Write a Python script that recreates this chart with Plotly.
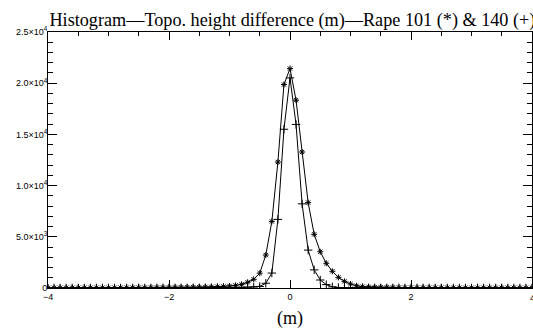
import plotly.graph_objects as go

x_bins = [-4.0, -3.9, -3.8, -3.7, -3.6, -3.5, -3.4, -3.3, -3.2, -3.1,
          -3.0, -2.9, -2.8, -2.7, -2.6, -2.5, -2.4, -2.3, -2.2, -2.1,
          -2.0, -1.9, -1.8, -1.7, -1.6, -1.5, -1.4, -1.3, -1.2, -1.1,
          -1.0, -0.9, -0.8, -0.7, -0.6, -0.5, -0.4, -0.3, -0.2, -0.1,
          0.0,
          0.1, 0.2, 0.3, 0.4, 0.5, 0.6, 0.7, 0.8, 0.9, 1.0,
          1.1, 1.2, 1.3, 1.4, 1.5, 1.6, 1.7, 1.8, 1.9, 2.0,
          2.1, 2.2, 2.3, 2.4, 2.5, 2.6, 2.7, 2.8, 2.9, 3.0,
          3.1, 3.2, 3.3, 3.4, 3.5, 3.6, 3.7, 3.8, 3.9, 4.0]

rape101 = [20, 20, 22, 22, 24, 25, 26, 28, 30, 30,
           32, 34, 35, 38, 40, 42, 45, 48, 52, 55,
           60, 64, 68, 74, 80, 88, 98, 110, 125, 150,
           200, 260, 360, 560, 850, 1450, 3220, 6500, 12300, 19870,
           21430,
           18340, 13280, 8340, 5240, 3540, 2410, 1630, 1040, 650, 390,
           220, 130, 105, 88, 76, 66, 60, 55, 50, 46,
           42, 40, 38, 36, 34, 32, 30, 29, 28, 27,
           26, 25, 24, 23, 22, 21, 20, 20, 19, 18]

rape140 = [5, 5, 5, 5, 5, 6, 6, 6, 7, 7,
           7, 8, 8, 9, 9, 10, 10, 11, 12, 13,
           14, 15, 16, 18, 20, 22, 25, 28, 32, 38,
           45, 55, 65, 80, 100, 150, 460, 1460, 6700, 15500,
           20520,
           15970, 8220, 3700, 1770, 780, 330, 110, 50, 35, 28,
           24, 21, 19, 17, 15, 14, 13, 12, 11, 10,
           10, 9, 9, 8, 8, 8, 7, 7, 7, 6,
           6, 6, 6, 5, 5, 5, 5, 5, 5, 5]

y_tickvals = [0, 5000, 10000, 15000, 20000, 25000]
y_ticktext = ["0", "5.0×10<sup>3</sup>", "1.0×10<sup>4</sup>",
              "1.5×10<sup>4</sup>", "2.0×10<sup>4</sup>", "2.5×10<sup>4</sup>"]
x_tickvals = [-4, -2, 0, 2]
x_ticktext = ["−4", "−2", "0", "2"]
x_last_tick = 4
x_last_label = "4"

title_text = "Histogram—Topo. height difference (m)—Rape 101 (*) & 140 (+)"
xaxis_title = "(m)"

fig = go.Figure()
fig.add_trace(go.Scatter(
    x=x_bins, y=rape101, mode="lines+markers",
    line=dict(color="black", width=1),
    marker=dict(symbol="asterisk-open", size=5, color="black",
                line=dict(color="black", width=1)),
    showlegend=False))
fig.add_trace(go.Scatter(
    x=x_bins, y=rape140, mode="lines+markers",
    line=dict(color="black", width=1),
    marker=dict(symbol="cross-thin-open", size=6, color="black",
                line=dict(color="black", width=1)),
    showlegend=False))

tickfont = dict(family="Liberation Sans, Arial, sans-serif", size=9, color="black")

fig.add_annotation(x=x_last_tick, y=0, xref="x", yref="y",
                   text=x_last_label, showarrow=False,
                   xanchor="center", yanchor="top", yshift=-3,
                   font=tickfont)

fig.update_layout(
    width=533, height=329,
    margin=dict(l=48, r=1, t=32, b=41),
    paper_bgcolor="white", plot_bgcolor="white",
    title=dict(text=title_text, x=0.505, xanchor="center", xref="paper",
               y=1 - 26 / 329, yref="container", yanchor="bottom",
               font=dict(family="Liberation Serif, Times New Roman, serif",
                         size=18.2, color="black")),
    xaxis=dict(range=[-4, 4], showgrid=False, zeroline=False,
               showline=True, linecolor="black", linewidth=1, mirror="allticks",
               ticks="inside", ticklen=8, tickcolor="black", tickwidth=1,
               tickvals=x_tickvals + [x_last_tick], ticktext=x_ticktext + [""],
               tickfont=tickfont,
               minor=dict(dtick=0.5, tick0=0, ticks="inside", ticklen=4,
                          tickcolor="black", showgrid=False),
               title=dict(text=xaxis_title, standoff=10,
                          font=dict(family="Liberation Serif, Times New Roman, serif",
                                    size=18, color="black"))),
    yaxis=dict(range=[0, 25000], showgrid=False, zeroline=False,
               showline=True, linecolor="black", linewidth=1, mirror="allticks",
               ticks="inside", ticklen=9, tickcolor="black", tickwidth=1,
               tickvals=y_tickvals, ticktext=y_ticktext, tickfont=tickfont,
               ticklabelstandoff=-2,
               minor=dict(dtick=1000, tick0=0, ticks="inside", ticklen=5,
                          tickcolor="black", showgrid=False)),
)

fig.write_html("out.html")
